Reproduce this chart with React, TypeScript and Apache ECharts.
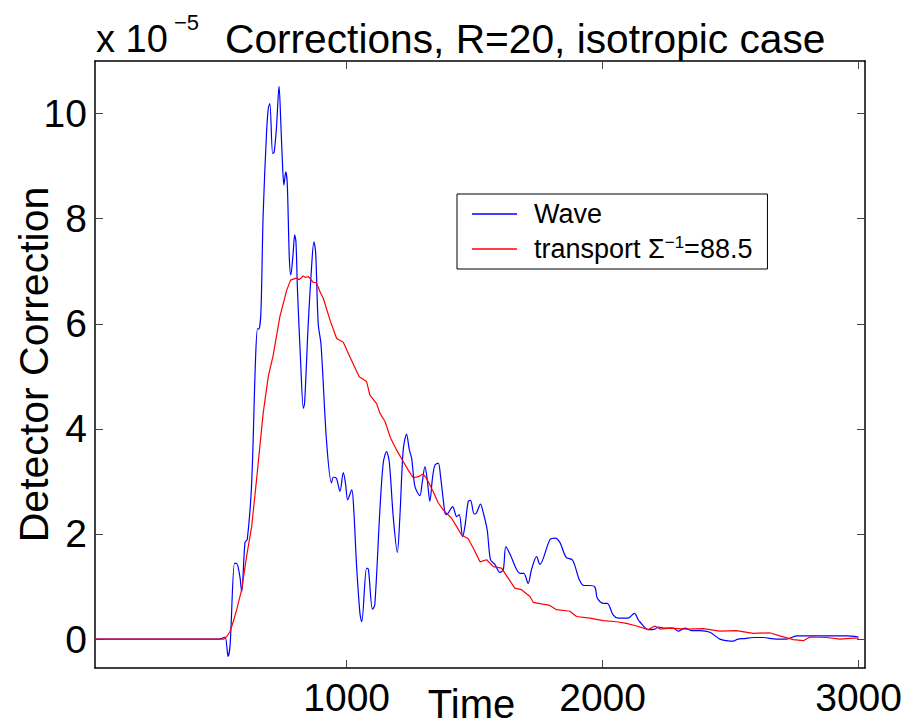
import React, { useEffect, useRef } from "react";
import * as echarts from "echarts";

const waveTime = [17, 490, 510, 525, 537, 545, 562, 570, 583, 590, 603, 612, 629, 644, 652, 657, 665, 674, 687, 694, 700, 711, 717, 726, 736, 743, 750, 755, 762, 768, 776, 782, 791, 797, 802, 808, 820, 831, 836, 850, 863, 872, 879, 889, 900, 922, 941, 948, 960, 974, 987, 996, 1004, 1020, 1028, 1039, 1052, 1059, 1078, 1085, 1101, 1110, 1130, 1143, 1156, 1167, 1182, 1198, 1208, 1221, 1234, 1245, 1254, 1267, 1286, 1295, 1306, 1315, 1325, 1336, 1345, 1358, 1367, 1384, 1390, 1414, 1430, 1440, 1453, 1462, 1475, 1484, 1498, 1507, 1523, 1534, 1549, 1562, 1579, 1599, 1612, 1622, 1638, 1677, 1692, 1709, 1722, 1742, 1755, 1794, 1814, 1834, 1857, 1883, 1909, 1927, 1948, 1970, 1979, 2002, 2018, 2041, 2061, 2100, 2124, 2139, 2145, 2178, 2204, 2217, 2243, 2276, 2295, 2321, 2347, 2380, 2419, 2458, 2484, 2510, 2529, 2555, 2588, 2627, 2679, 2718, 2758, 2810, 2875, 2953, 3000];
const waveValue = [0, 0, 0.01, 0.04, -0.33, -0.1, 1.44, 1.44, 1.19, 0.9, 1.84, 1.9, 2.97, 5.31, 5.91, 5.9, 6.2, 8.1, 9.62, 10.1, 10.19, 9.24, 9.27, 9.74, 10.52, 9.81, 8.98, 8.64, 8.89, 8.68, 7.27, 6.93, 7.34, 7.69, 7.56, 6.64, 5.31, 4.39, 4.5, 6.0, 7.08, 7.56, 7.36, 6.0, 5.6, 3.73, 2.97, 3.08, 3.06, 2.81, 3.17, 2.95, 2.65, 2.84, 2.45, 1.38, 0.49, 0.33, 1.35, 1.33, 0.57, 0.65, 2.46, 3.35, 3.57, 3.35, 2.33, 1.65, 2.33, 3.6, 3.9, 3.6, 3.44, 2.9, 2.73, 2.97, 3.28, 3.03, 2.62, 3.09, 3.31, 3.35, 3.09, 2.4, 2.37, 2.52, 2.33, 2.37, 1.95, 2.14, 2.62, 2.64, 2.38, 2.4, 2.57, 2.4, 2.08, 1.51, 1.42, 1.27, 1.32, 1.76, 1.62, 1.25, 1.25, 1.06, 1.32, 1.57, 1.42, 1.89, 1.92, 1.83, 1.56, 1.5, 1.13, 1.02, 1.02, 0.99, 0.78, 0.68, 0.68, 0.46, 0.4, 0.4, 0.49, 0.37, 0.33, 0.18, 0.19, 0.23, 0.21, 0.21, 0.15, 0.21, 0.16, 0.16, 0.13, 0.0, -0.03, -0.04, 0.0, 0.01, 0.03, 0.03, 0.0, 0.0, 0.06, 0.06, 0.06, 0.06, 0.04];

const transportTime = [17, 520, 530, 544, 557, 570, 590, 609, 629, 648, 674, 694, 713, 739, 766, 781, 797, 804, 815, 830, 841, 850, 869, 882, 896, 909, 935, 961, 987, 1013, 1049, 1078, 1091, 1117, 1130, 1150, 1172, 1195, 1221, 1240, 1260, 1280, 1299, 1312, 1338, 1358, 1377, 1410, 1430, 1449, 1475, 1495, 1521, 1547, 1573, 1605, 1631, 1657, 1683, 1716, 1729, 1761, 1794, 1820, 1872, 1898, 1950, 2002, 2054, 2093, 2133, 2178, 2204, 2224, 2263, 2328, 2393, 2458, 2523, 2588, 2653, 2692, 2745, 2784, 2810, 2875, 2927, 2979, 3000];
const transportValue = [0, 0, 0.04, 0.14, 0.33, 0.55, 0.94, 1.57, 2.14, 3.03, 4.3, 5.0, 5.4, 6.13, 6.64, 6.83, 6.86, 6.87, 6.84, 6.91, 6.88, 6.9, 6.79, 6.78, 6.61, 6.48, 6.07, 5.72, 5.65, 5.37, 4.99, 4.9, 4.64, 4.48, 4.3, 4.14, 3.82, 3.6, 3.38, 3.22, 3.07, 3.09, 3.14, 3.06, 2.81, 2.59, 2.46, 2.3, 2.14, 1.98, 1.91, 1.73, 1.47, 1.51, 1.38, 1.35, 1.16, 0.97, 0.94, 0.81, 0.7, 0.67, 0.64, 0.56, 0.53, 0.43, 0.4, 0.35, 0.33, 0.3, 0.25, 0.18, 0.25, 0.19, 0.21, 0.19, 0.2, 0.15, 0.16, 0.11, 0.12, 0.06, -0.01, -0.03, 0.04, 0.03, 0.0, 0.02, 0.02];

const xTicks = [1000, 2000, 3000];
const yTicks = [0, 2, 4, 6, 8, 10];
const seriesNames = ["Wave", "transport"];
const titleText = "Corrections, R=20, isotropic case";

const FONT = "'Liberation Sans', Arial, Helvetica, sans-serif";

export default function App() {
  const ref = useRef<HTMLDivElement>(null);
  useEffect(() => {
    if (!ref.current) return;
    const chart = echarts.init(ref.current, undefined, { renderer: "svg" });
    const axisLine = { show: true, onZero: false, lineStyle: { color: "#000", width: 1.5 } };
    const tick = { show: true, inside: true, length: 8, lineStyle: { color: "#444", width: 1 } };
    const plain = (v: number) => String(v);
    chart.setOption({
      animation: false,
      backgroundColor: "#fff",
      textStyle: { fontFamily: FONT },
      title: {
        text: titleText,
        left: 225,
        top: 18,
        padding: 0,
        textStyle: { fontSize: 40.7, fontWeight: "normal", color: "#000", fontFamily: FONT },
      },
      graphic: [
        {
          type: "text",
          left: 96,
          top: 20,
          style: { text: "x 10", fontSize: 38, fill: "#000", fontFamily: FONT },
        },
        {
          type: "text",
          left: 174,
          top: 11,
          style: { text: "\u22125", fontSize: 22, fill: "#000", fontFamily: FONT },
        },
      ],
      legend: {
        orient: "vertical",
        left: 457,
        top: 194,
        padding: [5, 15, 5, 15],
        itemGap: 5,
        itemWidth: 45,
        itemHeight: 1.5,
        icon: "rect",
        borderColor: "#000",
        borderWidth: 1,
        backgroundColor: "#fff",
        data: seriesNames,
        formatter: (name: string) => (name === "transport" ? "transport \u03A3{sup|\u22121}=88.5" : name),
        textStyle: {
          fontSize: 27,
          lineHeight: 30,
          color: "#000",
          fontFamily: FONT,
          padding: [0, 0, 0, 12],
          rich: {
            sup: { fontSize: 17, lineHeight: 30, verticalAlign: "top", padding: [0, 0, 12, 0], fontFamily: FONT, color: "#000" },
          },
        },
      },
      grid: { left: 95, right: 39, top: 61, bottom: 56, containLabel: false, outerBoundsMode: "none" },
      xAxis: [
        {
          type: "value",
          min: 17,
          max: 3025,
          position: "bottom",
          axisLine,
          axisTick: { ...tick, customValues: xTicks },
          axisLabel: { customValues: xTicks, formatter: plain, fontSize: 39, color: "#000", margin: 10, fontFamily: FONT },
          splitLine: { show: false },
          name: "Time",
          nameLocation: "middle",
          nameGap: 18,
          nameMoveOverlap: false,
          nameTextStyle: { fontSize: 40, lineHeight: 36, color: "#000", fontFamily: FONT, padding: [0, 17, 0, 0], verticalAlign: "top" },
        },
        {
          type: "value",
          min: 17,
          max: 3025,
          position: "top",
          axisLine,
          axisTick: { ...tick, customValues: xTicks },
          axisLabel: { show: false, customValues: xTicks },
          splitLine: { show: false },
        },
      ],
      yAxis: [
        {
          type: "value",
          min: -0.55,
          max: 11,
          position: "left",
          axisLine,
          axisTick: { ...tick, customValues: yTicks },
          axisLabel: { customValues: yTicks, formatter: plain, fontSize: 39, color: "#000", margin: 8, fontFamily: FONT },
          splitLine: { show: false },
          name: "Detector Correction",
          nameLocation: "middle",
          nameGap: 41,
          nameMoveOverlap: false,
          nameTextStyle: { fontSize: 41, color: "#000", fontFamily: FONT },
        },
        {
          type: "value",
          min: -0.55,
          max: 11,
          position: "right",
          axisLine,
          axisTick: { ...tick, customValues: yTicks },
          axisLabel: { show: false, customValues: yTicks },
          splitLine: { show: false },
        },
      ],
      series: [
        {
          name: seriesNames[0],
          type: "line",
          xAxisIndex: 0,
          yAxisIndex: 0,
          data: waveTime.map((t, i) => [t, waveValue[i]]),
          symbol: "none",
          smooth: 0.3,
          lineStyle: { color: "#0000ff", width: 1.2 },
          itemStyle: { color: "#0000ff" },
        },
        {
          name: seriesNames[1],
          type: "line",
          xAxisIndex: 0,
          yAxisIndex: 0,
          data: transportTime.map((t, i) => [t, transportValue[i]]),
          symbol: "none",
          lineStyle: { color: "#ff0000", width: 1.2 },
          itemStyle: { color: "#ff0000" },
        },
      ],
    });
    return () => chart.dispose();
  }, []);
  return <div ref={ref} style={{ position: "fixed", left: 0, top: 0, width: 904, height: 724 }} />;
}
